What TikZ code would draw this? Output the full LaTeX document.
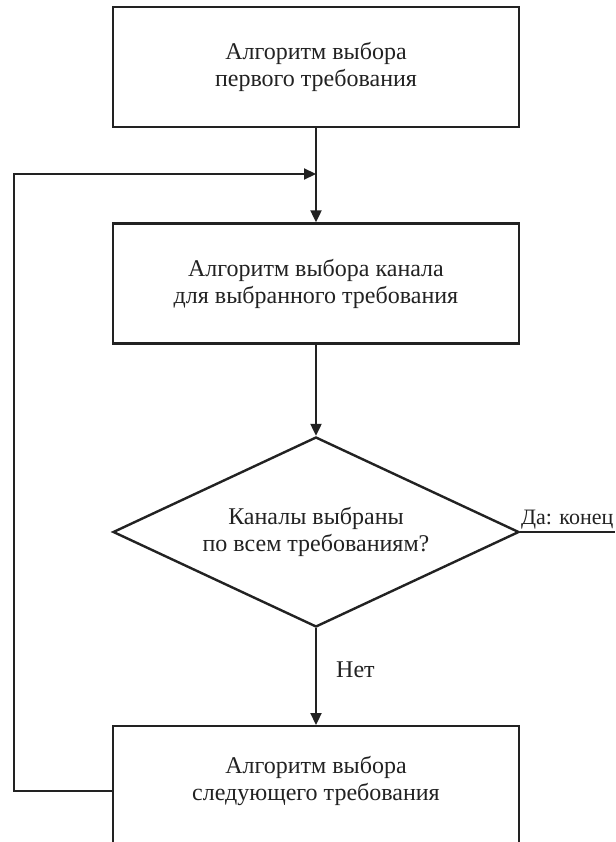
\documentclass[tikz,border=0pt]{standalone}
\usepackage{fontspec}
\setmainfont{Liberation Serif}
\usetikzlibrary{shapes.geometric,arrows.meta}
\definecolor{ink}{HTML}{222222}
\begin{document}
\begin{tikzpicture}[x=1pt,y=-1pt,
  every node/.style={font=\fontsize{24}{27}\selectfont, text=ink},
  stepbox/.style={draw=ink, line width=2.4pt, minimum width=406pt, minimum height=120pt,
    inner sep=0pt, align=center},
  decision/.style={diamond, draw=ink, line width=2.4pt, aspect=2.14, minimum width=406pt,
    minimum height=190pt, inner sep=0pt, align=center},
  flow/.style={draw=ink, line width=2.2pt, -{Triangle[length=12pt,width=11pt]}},
  plain/.style={draw=ink, line width=2.2pt}
]
\useasboundingbox (0,0) rectangle (615,842);
\fill[white] (0,0) rectangle (615,842);
\clip (0,0) rectangle (615,842);

% blocks of the algorithm
\node[stepbox] (first) at (316,67) {Алгоритм выбора\\первого требования};
\node[stepbox] (chan) at (316,283.5) {Алгоритм выбора канала\\для выбранного требования};
\node[decision] (check) at (316,532) {Каналы выбраны\\по всем требованиям?};
\node[stepbox, minimum height=130pt, anchor=north] (next) at (316,725) {};
\node[align=center, inner sep=0pt] (nexttext) at (316,781) {Алгоритм выбора\\следующего требования};

% helper points
\coordinate (join) at (316,174);
\coordinate (rail) at (14,0);
\coordinate (yesend) at (615,532);

% main flow
\draw[flow] (first.south) -- (chan.north);
\draw[flow] (chan.south) -- (check.north);
\draw[flow] (check.south) -- (next.north);
\draw[plain] (check.east) -- (yesend);

% return loop to the channel selection
\draw[flow] (next.west) -- (next.west -| rail) -- (join -| rail) -- (join);

% branch labels
\node[anchor=base west, inner sep=0pt, font=\fontsize{22}{27}\selectfont] (yes) at (521,524) {Да: конец};
\node[anchor=base west, inner sep=0pt] (no) at (336,677) {Нет};
\end{tikzpicture}
\end{document}
